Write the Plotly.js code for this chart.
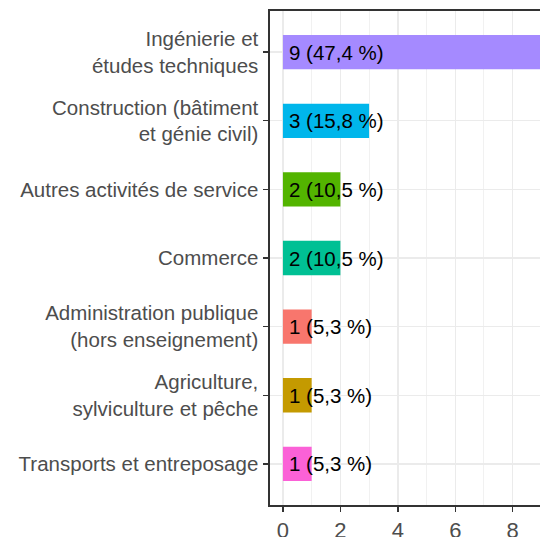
<!DOCTYPE html>
<html>
<head>
<meta charset="utf-8">
<script src="https://cdn.plot.ly/plotly-3.0.1.min.js"></script>
<style>html,body{margin:0;padding:0;background:#fff}</style>
</head>
<body>
<div id="chart" style="width:540px;height:537px"></div>
<script>
const categories = [
  "Ingénierie et<br>études techniques",
  "Construction (bâtiment<br>et génie civil)",
  "Autres activités de service",
  "Commerce",
  "Administration publique<br>(hors enseignement)",
  "Agriculture,<br>sylviculture et pêche",
  "Transports et entreposage"
];
const counts = [9, 3, 2, 2, 1, 1, 1];
const colors = ["#A58AFF", "#00B6EB", "#53B400", "#00C094", "#F8766D", "#C49A00", "#FB61D7"];
const xTicks = [0, 2, 4, 6, 8];

const total = counts.reduce((a, b) => a + b, 0);
const labels = counts.map(v => v + " (" + (v / total * 100).toFixed(1).replace(".", ",") + " %)");

const trace = {
  type: "bar",
  orientation: "h",
  x: counts,
  y: categories,
  width: 0.5,
  marker: {color: colors, line: {width: 0}},
  hoverinfo: "skip",
  cliponaxis: true
};

const annotations = categories.map((c, i) => ({
  x: 0, y: c, xref: "x", yref: "y",
  text: labels[i], showarrow: false,
  xanchor: "left", yanchor: "middle", xshift: 4,
  font: {family: "Liberation Sans, Arial, sans-serif", size: 20.5, color: "#000000"}
}));

const layout = {
  width: 540, height: 537,
  margin: {l: 270, r: 0, t: 11, b: 32, pad: 0},
  paper_bgcolor: "#ffffff",
  plot_bgcolor: "#ffffff",
  showlegend: false,
  font: {family: "Liberation Sans, Arial, sans-serif", color: "#4D4D4D"},
  xaxis: {
    range: [-0.45, 8.95],
    tickvals: xTicks,
    ticktext: xTicks.map(String),
    showgrid: true, gridcolor: "#EBEBEB", gridwidth: 1.4,
    minor: {dtick: 1, tick0: 0, showgrid: true, gridcolor: "#EBEBEB", gridwidth: 0.7},
    zeroline: false,
    showline: true, linecolor: "#333333", linewidth: 1.6, mirror: true,
    ticks: "outside", ticklen: 5, tickwidth: 1.4, tickcolor: "#333333",
    tickfont: {size: 22, color: "#4D4D4D"},
    fixedrange: true
  },
  yaxis: {
    type: "category",
    categoryorder: "array",
    categoryarray: categories,
    range: [6.6, -0.6],
    showgrid: true, gridcolor: "#EBEBEB", gridwidth: 1.4,
    zeroline: false,
    showline: true, linecolor: "#333333", linewidth: 1.6,
    ticks: "outside", ticklen: 5, tickwidth: 1.4, tickcolor: "#333333",
    tickfont: {size: 20.5, color: "#4D4D4D"},
    ticklabelstandoff: 1,
    fixedrange: true
  },
  annotations: annotations,
  bargap: 0.5
};

Plotly.newPlot("chart", [trace], layout, {displayModeBar: false, staticPlot: true});
</script>
</body>
</html>
